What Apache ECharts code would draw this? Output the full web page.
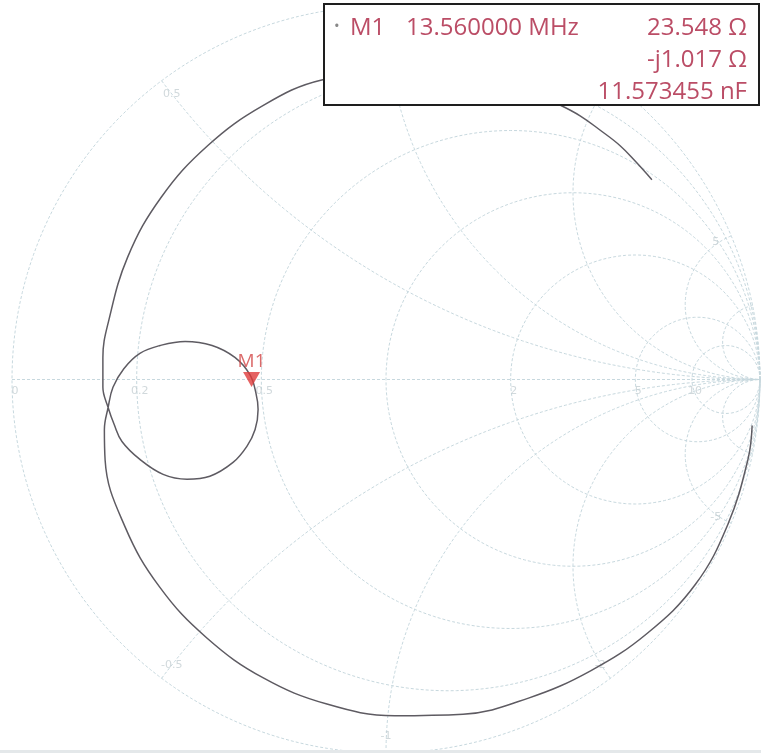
<!DOCTYPE html>
<html lang="en">
<head>
    <meta charset="UTF-8">
    <title>Smith chart M1</title>
    <style>
        html, body { margin: 0; padding: 0; background: #fff; }
        #main { width: 761px; height: 753px; }
    </style>
</head>
<body>
    <div id="main"></div>
    <script src="https://cdn.jsdelivr.net/npm/echarts@6/dist/echarts.min.js"></script>
    <script>
    var myChart = echarts.init(document.getElementById('main'));

    // smith grid: constant resistance circles and reactance arcs (normalised)
    var rCircles = [0.2, 0.5, 1, 2, 5, 10];
    var xArcs = [0.5, 1, 2, 5, 10, -0.5, -1, -2, -5, -10];
    var rLabels = ['0', '0.2', '0.5', '2', '5', '10'];
    var xLabels = ['0.5', '1', '2', '5', '-0.5', '-1', '-2', '-5'];

    var traceRe = [0.711, 0.668, 0.626, 0.572, 0.519, 0.465, 0.385, 0.291, 0.198, 0.104,
        0.011, -0.083, -0.172, -0.328, -0.477, -0.601, -0.691, -0.743, -0.757, -0.757,
        -0.743, -0.727, -0.706, -0.658, -0.596, -0.532, -0.471, -0.409, -0.372, -0.350,
        -0.342, -0.348, -0.364, -0.404, -0.465, -0.537, -0.604, -0.658, -0.701, -0.730,
        -0.743, -0.753, -0.751, -0.698, -0.605, -0.479, -0.328, -0.158, 0.023, 0.206,
        0.381, 0.547, 0.698, 0.827, 0.914, 0.968, 0.979];
    var traceIm = [0.535, 0.583, 0.626, 0.668, 0.706, 0.735, 0.770, 0.797, 0.813, 0.818,
        0.816, 0.810, 0.802, 0.734, 0.626, 0.488, 0.327, 0.151, 0.059, -0.021,
        -0.075, -0.120, -0.166, -0.214, -0.254, -0.267, -0.259, -0.222, -0.179, -0.134,
        -0.080, -0.035, 0.013, 0.059, 0.091, 0.102, 0.091, 0.070, 0.029, -0.021,
        -0.075, -0.134, -0.216, -0.394, -0.556, -0.692, -0.799, -0.869, -0.900, -0.896,
        -0.853, -0.780, -0.680, -0.549, -0.388, -0.213, -0.123];

    // marker M1
    var z0 = 50;
    var m1Freq = '13.560000 MHz';
    var m1R = 23.548;
    var m1X = -1.017;
    var m1Lines = ['23.548 Ω', '-j1.017 Ω', '11.573455 nF'];

    var gridColor = '#c7d8de';
    var gridStyle = { color: gridColor, width: 1, type: [3, 2] };

    function toGamma(r, x) {
        var d = (r + 1) * (r + 1) + x * x;
        return [(r * r + x * x - 1) / d, (2 * x) / d];
    }

    function rCircle(r) {
        var pts = [];
        var c = r / (1 + r), rad = 1 / (1 + r);
        for (var i = 0; i <= 240; i++) {
            var a = i / 240 * Math.PI * 2;
            pts.push([c + rad * Math.cos(a), rad * Math.sin(a)]);
        }
        return pts;
    }

    function xArc(x) {
        var pts = [];
        for (var i = 0; i < 300; i++) {
            var r = Math.tan(i / 300 * Math.PI / 2);
            pts.push(toGamma(r, x));
        }
        pts.push([1, 0]);
        return pts;
    }

    var series = [];
    function gridLine(pts) {
        series.push({
            type: 'line', data: pts, showSymbol: false, silent: true,
            lineStyle: gridStyle, z: 1
        });
    }
    gridLine(rCircle(0));
    gridLine([[-1, 0], [1, 0]]);
    rCircles.forEach(function (r) { gridLine(rCircle(r)); });
    xArcs.forEach(function (x) { gridLine(xArc(x)); });

    // grid labels
    var rVals = [0, 0.2, 0.5, 2, 5, 10];
    var labelData = [];
    rVals.forEach(function (r, i) {
        labelData.push({ value: [(r - 1) / (r + 1), 0], name: rLabels[i], pos: 'r' });
    });
    xLabels.forEach(function (t) {
        var g = toGamma(0, parseFloat(t));
        labelData.push({ value: [g[0] * 0.955, g[1] * 0.955], name: t, pos: 'x' });
    });
    series.push({
        type: 'scatter', silent: true, symbolSize: 1, itemStyle: { color: 'rgba(0,0,0,0)' },
        data: labelData.map(function (d) {
            return {
                value: d.value, name: d.name,
                label: d.pos === 'r'
                    ? { position: 'bottom', distance: 6, offset: [3, 0] }
                    : { position: 'inside' }
            };
        }),
        label: {
            show: true, formatter: '{b}', color: '#c6cfd3', fontSize: 11,
            fontFamily: 'DejaVu Sans'
        },
        z: 2
    });

    // trace
    var traceData = traceRe.map(function (v, i) { return [v, traceIm[i]]; });
    series.push({
        type: 'line', data: traceData, showSymbol: false, silent: true, smooth: 0.4,
        lineStyle: { color: '#5e5b62', width: 1.5 }, z: 5
    });

    // marker
    var zr = m1R / z0, zx = m1X / z0;
    series.push({
        type: 'scatter', silent: true,
        data: [toGamma(zr, zx)],
        symbol: 'triangle', symbolRotate: 180, symbolSize: [17, 15], symbolOffset: [0, -7],
        itemStyle: { color: '#de3b3b' },
        label: {
            show: true, position: 'top', distance: 1, formatter: 'M1',
            color: '#d24545', fontSize: 19, fontFamily: 'Open Sans'
        },
        z: 6
    });

    var textColor = '#bb4d66';
    function boxText(x, y, text, align) {
        return {
            type: 'text', x: x, y: y, z: 101,
            style: {
                text: text, fill: textColor, fontSize: 24, align: align || 'left',
                verticalAlign: 'middle', fontFamily: 'Open Sans'
            }
        };
    }

    var option = {
        animation: false,
        backgroundColor: '#fff',
        grid: { left: 12, top: 6, width: 748, height: 748 },
        xAxis: { type: 'value', min: -1, max: 1, show: false },
        yAxis: { type: 'value', min: -1, max: 1, show: false },
        series: series,
        graphic: [
            {
                type: 'rect', z: 100, shape: { x: 0, y: 750, width: 761, height: 3 },
                style: { fill: '#e4e8ea' }
            },
            {
                type: 'rect', z: 100, shape: { x: 324, y: 4, width: 435, height: 101 },
                style: { fill: '#fff', stroke: '#1e1e1e', lineWidth: 2 }
            },
            {
                type: 'text', x: 334, y: 27, z: 101,
                style: { text: '•', fill: '#888', fontSize: 15, verticalAlign: 'middle', fontFamily: 'Open Sans' }
            },
            boxText(350, 28, 'M1'),
            boxText(406, 28, m1Freq),
            boxText(747, 28, m1Lines[0], 'right'),
            boxText(747, 60, m1Lines[1], 'right'),
            boxText(747, 92, m1Lines[2], 'right')
        ]
    };
    myChart.setOption(option);
    </script>
</body>
</html>
